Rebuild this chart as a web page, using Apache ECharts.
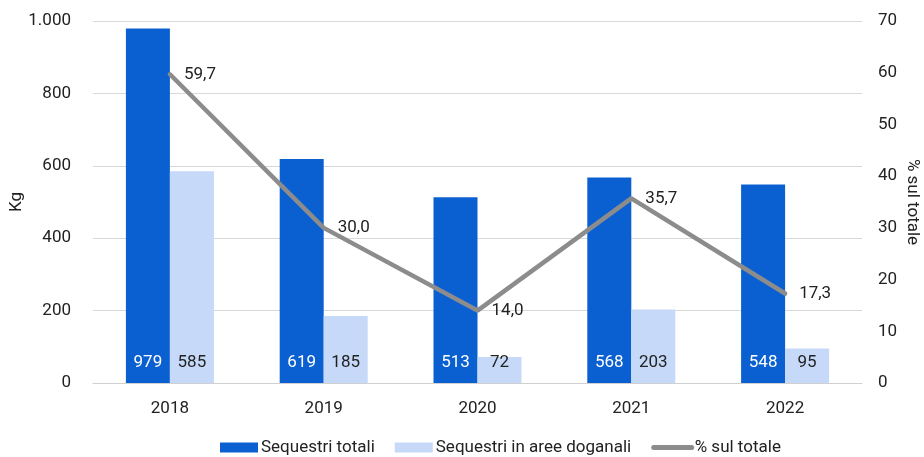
<!DOCTYPE html>
<html><head><meta charset="utf-8">
<script src="https://cdn.jsdelivr.net/npm/echarts@6/dist/echarts.min.js"></script>
<style>html,body{margin:0;padding:0;background:#fff}#c{width:924px;height:457px}</style>
</head><body><div id="c"></div>
<script>
const categories = ['2018','2019','2020','2021','2022'];
const sequestriTotali = [979, 619, 513, 568, 548];
const sequestriDoganali = [585, 185, 72, 203, 95];
const percentuale = [59.7, 30.0, 14.0, 35.7, 17.3];
const leftTicks = [0, 200, 400, 600, 800, 1000];
const rightTicks = [0, 10, 20, 30, 40, 50, 60, 70];

const FONT = '"Liberation Sans Narrow", "Arial Narrow", Roboto, sans-serif';
const FS = 17;
const fmtIt = v => String(v).replace(/\B(?=(\d{3})+(?!\d))/g, '.');
const chart = echarts.init(document.getElementById('c'), null, {renderer: 'canvas'});
chart.setOption({
  animation: false,
  textStyle: {fontFamily: FONT},
  grid: {left: 93, right: 62, top: 21, bottom: 74, containLabel: false, outerBoundsMode: 'none'},
  legend: {
    top: 434, left: 215, itemGap: 20, itemWidth: 38, itemHeight: 10,
    textStyle: {fontFamily: FONT, fontSize: FS, color: '#222', padding: [0, 0, 0, -2]},
    data: [
      {name: 'Sequestri totali', icon: 'rect'},
      {name: 'Sequestri in aree doganali', icon: 'rect'},
      {name: '% sul totale', itemStyle: {opacity: 0}, lineStyle: {width: 5, color: '#8c8c8c', cap: 'round'}}
    ]
  },
  xAxis: {
    type: 'category', data: categories,
    axisLine: {show: true, lineStyle: {color: '#d0d0d0', width: 1}},
    axisTick: {show: false},
    axisLabel: {fontFamily: FONT, fontSize: FS, color: '#222', margin: 17}
  },
  yAxis: [
    {
      type: 'value', min: leftTicks[0], max: leftTicks[leftTicks.length - 1], interval: 200,
      name: 'Kg', nameLocation: 'middle', nameGap: 68, nameRotate: 90, nameMoveOverlap: false,
      nameTextStyle: {fontFamily: FONT, fontSize: FS, color: '#222'},
      axisLine: {show: false}, axisTick: {show: false},
      axisLabel: {fontFamily: FONT, fontSize: FS, color: '#222', margin: 22, formatter: fmtIt},
      splitLine: {lineStyle: {color: '#d9d9d9', width: 1}}
    },
    {
      type: 'value', min: rightTicks[0], max: rightTicks[rightTicks.length - 1], interval: 10,
      name: '% sul totale', nameLocation: 'middle', nameGap: 42, nameRotate: -90, nameMoveOverlap: false,
      nameTextStyle: {fontFamily: FONT, fontSize: FS, color: '#222'},
      axisLine: {show: false}, axisTick: {show: false},
      axisLabel: {fontFamily: FONT, fontSize: FS, color: '#222', margin: 16},
      splitLine: {show: false}
    }
  ],
  series: [
    {
      name: 'Sequestri totali', type: 'bar', data: sequestriTotali, barWidth: 44, barGap: '0%',
      itemStyle: {color: '#0a60d0'},
      label: {show: true, position: 'insideBottom', distance: 12, color: '#fff', fontFamily: FONT, fontSize: FS}
    },
    {
      name: 'Sequestri in aree doganali', type: 'bar', data: sequestriDoganali, barWidth: 44,
      itemStyle: {color: '#c6d9f8'},
      label: {show: true, position: 'insideBottom', distance: 12, color: '#222', fontFamily: FONT, fontSize: FS}
    },
    {
      name: '% sul totale', type: 'line', yAxisIndex: 1, data: percentuale,
      symbol: 'circle', symbolSize: 0.1, showSymbol: true,
      lineStyle: {color: '#8c8c8c', width: 4.5, cap: 'round'},
      itemStyle: {color: '#8c8c8c'},
      label: {show: true, position: 'right', distance: 14, color: '#222', fontFamily: FONT, fontSize: FS,
        formatter: p => p.value.toFixed(1).replace('.', ',')},
      z: 5
    }
  ]
});
</script></body></html>
